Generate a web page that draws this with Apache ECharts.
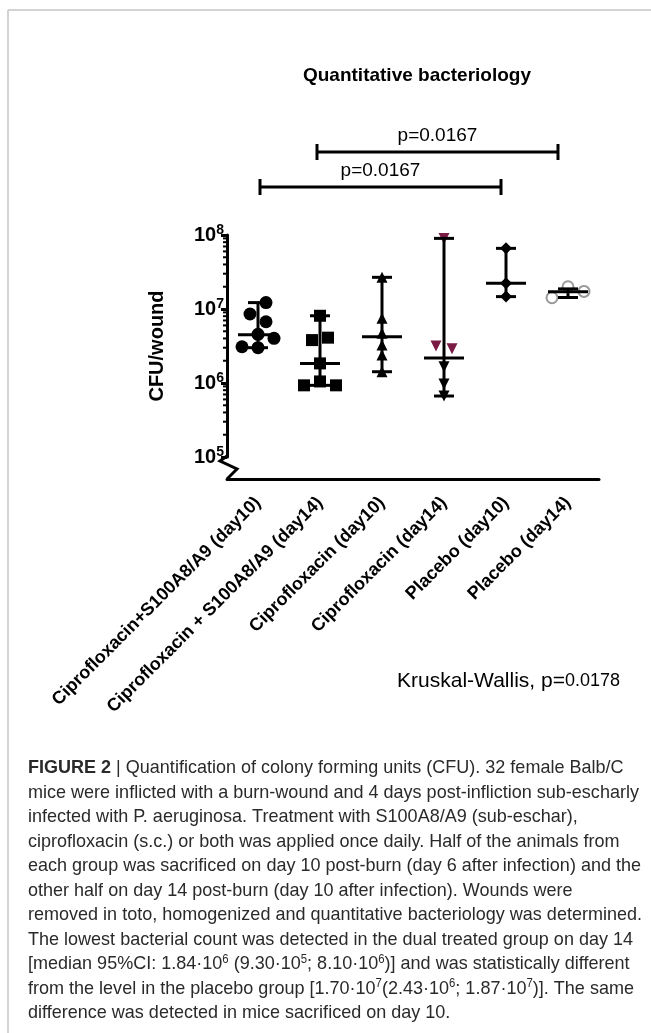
<!DOCTYPE html>
<html><head><meta charset="utf-8">
<script src="https://cdn.jsdelivr.net/npm/echarts@6/dist/echarts.min.js"></script>
<style>html,body{margin:0;padding:0;background:#fff}#c{width:651px;height:1033px}</style>
</head><body><div id="c"></div>
<script>
// ---------------- data ----------------
const categories = [
  'Ciprofloxacin+S100A8/A9 (day10)',
  'Ciprofloxacin + S100A8/A9 (day14)',
  'Ciprofloxacin (day10)',
  'Ciprofloxacin (day14)',
  'Placebo (day10)',
  'Placebo (day14)'
];
const cipS100Day10 = [1.22e7, 8.56e6, 6.73e6, 4.55e6, 4.02e6, 3.09e6, 3.0e6];
const cipS100Day14 = [8.1e6, 4.1e6, 3.8e6, 1.84e6, 1.05e6, 9.3e5, 9.3e5];
const cipDay10 = [2.68e7, 7.48e6, 4.70e6, 3.27e6, 2.39e6, 1.42e6];
const cipDay14Highlighted = [9.0e7, 2.91e6, 3.16e6];
const cipDay14Other = [1.66e6, 9.7e5, 6.67e5];
const placeboDay10 = [6.6e7, 2.22e7, 1.47e7];
const placeboDay14 = [2.0e7, 1.42e7, 1.73e7];
const medianValues = [4.5e6, 1.84e6, 4.23e6, 2.18e6, 2.22e7, 1.71e7];
const lowerValues = [3.0e6, 9.3e5, 1.42e6, 6.67e5, 1.47e7, 1.43e7];
const upperValues = [1.22e7, 8.1e6, 2.68e7, 9.0e7, 6.6e7, 1.87e7];
const yTickValues = [1e5, 1e6, 1e7, 1e8];
const yTickExponents = ['5', '6', '7', '8'];
const compFrom = [0, 1];
const compTo = [4, 5];
const compLabels = ['p=0.0167', 'p=0.0167'];
const kruskalLabel = 'Kruskal-Wallis, p=';
const kruskalValue = '0.0178';
const titleText = 'Quantitative bacteriology';
const yAxisName = 'CFU/wound';
const captionLines = [
  '{fb|FIGURE 2} | Quantification of colony forming units (CFU). 32 female Balb/C',
  'mice were inflicted with a burn-wound and 4 days post-infliction sub-escharly',
  'infected with P. aeruginosa. Treatment with S100A8/A9 (sub-eschar),',
  'ciprofloxacin (s.c.) or both was applied once daily. Half of the animals from',
  'each group was sacrificed on day 10 post-burn (day 6 after infection) and the',
  'other half on day 14 post-burn (day 10 after infection). Wounds were',
  'removed in toto, homogenized and quantitative bacteriology was determined.',
  'The lowest bacterial count was detected in the dual treated group on day 14',
  '[median 95%CI: 1.84·10{s|6} (9.30·10{s|5}; 8.10·10{s|6})] and was statistically different',
  'from the level in the placebo group [1.70·10{s|7}(2.43·10{s|6}; 1.87·10{s|7})]. The same',
  'difference was detected in mice sacrificed on day 10.'
];

// ---------------- styling / layout ----------------
const FONT = "'Liberation Sans', Arial, Helvetica, sans-serif";
const MAROON = '#7b1a45';
const seriesDefs = [
  {cat: 0, data: cipS100Day10, symbol: 'circle', size: 13, color: '#000', d: 12.5},
  {cat: 1, data: cipS100Day14, symbol: 'rect', size: 12, color: '#000', d: 12},
  {cat: 2, data: cipDay10, symbol: 'triangle', size: 11, color: '#000', d: 9.5},
  {cat: 3, data: cipDay14Highlighted, symbol: 'triangle', rotate: 180, size: 11, color: MAROON, d: 9.5},
  {cat: 3, data: cipDay14Other, symbol: 'triangle', rotate: 180, size: 11, color: '#000', d: 9.5},
  {cat: 4, data: placeboDay10, symbol: 'diamond', size: 12, color: '#000', d: 9.5},
  {cat: 5, data: placeboDay14, symbol: 'circle', size: 11, color: '#999', d: 12, empty: true}
];
const SLOT = 16;

const chart = echarts.init(document.getElementById('c'), null, {renderer: 'canvas'});

function baseSeries(offsets) {
  const list = seriesDefs.map((s, si) => ({
    type: 'scatter',
    symbol: s.symbol,
    symbolSize: s.size,
    symbolRotate: s.rotate || 0,
    itemStyle: s.empty ? {color: '#fff', borderColor: s.color, borderWidth: 2, opacity: 1} : {color: s.color, opacity: 1},
    emphasis: {disabled: true},
    z: 2,
    data: s.data.map((v, i) => ({
      value: [s.cat, v],
      symbolOffset: [offsets ? offsets[si][i] : 0, 0]
    }))
  }));
  list.push({
    type: 'custom',
    z: 5,
    encode: {x: 0, y: [1, 2, 3]},
    data: categories.map((c, i) => [i, medianValues[i], lowerValues[i], upperValues[i]]),
    renderItem(params, api) {
      const pm = api.coord([api.value(0), api.value(1)]);
      const pl = api.coord([api.value(0), api.value(2)]);
      const pu = api.coord([api.value(0), api.value(3)]);
      const x = pm[0];
      const st = {stroke: '#000', lineWidth: 3};
      return {type: 'group', children: [
        {type: 'line', shape: {x1: x, y1: pu[1], x2: x, y2: pl[1]}, style: st},
        {type: 'line', shape: {x1: x - 10, y1: pu[1], x2: x + 10, y2: pu[1]}, style: st},
        {type: 'line', shape: {x1: x - 10, y1: pl[1], x2: x + 10, y2: pl[1]}, style: st},
        {type: 'line', shape: {x1: x - 20, y1: pm[1], x2: x + 20, y2: pm[1]}, style: st}
      ]};
    }
  });
  return list;
}

const option = {
  backgroundColor: '#fff',
  animation: false,
  title: {
    text: titleText, left: 412, top: 61, textAlign: 'center',
    textStyle: {fontFamily: FONT, fontWeight: 'bold', fontSize: 19, color: '#000'}
  },
  grid: {left: 227, top: 235, right: 52, bottom: 576, containLabel: false},
  xAxis: {
    type: 'category', data: categories, offset: 22,
    axisLine: {lineStyle: {color: '#000', width: 3}},
    axisTick: {alignWithLabel: true, length: 6, lineStyle: {color: '#000', width: 3}},
    axisLabel: {rotate: 45, interval: 0, margin: 21, color: '#000', fontFamily: FONT, fontWeight: 'bold', fontSize: 18},
    splitLine: {show: false}
  },
  yAxis: {
    type: 'log', logBase: 10, min: 1e5, max: 1e8,
    name: yAxisName, nameLocation: 'middle', nameGap: 60,
    nameTextStyle: {fontFamily: FONT, fontWeight: 'bold', fontSize: 20, color: '#000'},
    axisLine: {show: true, lineStyle: {color: '#000', width: 3}},
    axisTick: {show: true, length: 6, lineStyle: {color: '#000', width: 3}},
    axisLabel: {
      margin: 3, color: '#000',
      formatter: v => {
        const k = yTickValues.findIndex(t => Math.abs(Math.log10(t) - Math.log10(v)) < 1e-6);
        return k < 0 ? '' : '{b|10}{s|' + yTickExponents[k] + '}';
      },
      rich: {
        b: {fontFamily: FONT, fontWeight: 'bold', fontSize: 20, color: '#000'},
        s: {fontFamily: FONT, fontWeight: 'bold', fontSize: 14, color: '#000', verticalAlign: 'top', padding: [0, 0, 9, 0]}
      }
    },
    splitLine: {show: false}
  },
  series: baseSeries(null)
};
chart.setOption(option);

// ---- beeswarm offsets from pixel positions (computed through the axis scale) ----
function swarmOffsets() {
  const result = seriesDefs.map(s => s.data.map(() => 0));
  categories.forEach((c, cat) => {
    const pts = [];
    seriesDefs.forEach((s, si) => {
      if (s.cat !== cat) return;
      s.data.forEach((v, i) => pts.push({si, i, d: s.d, y: chart.convertToPixel({yAxisIndex: 0}, v)}));
    });
    const placed = [];
    pts.forEach(p => {
      const free = s => placed.every(q => q.s !== s || Math.abs(q.y - p.y) >= p.d);
      let s = 0;
      if (!free(0)) {
        const left = placed.filter(q => q.s < 0).length;
        const right = placed.filter(q => q.s > 0).length;
        const order = right < left ? [1, -1, 2, -2, 3, -3] : [-1, 1, -2, 2, -3, 3];
        s = order.find(free);
      }
      p.s = s; placed.push(p);
    });
    const sorted = pts.slice().sort((a, b) => a.y - b.y);
    let cluster = [];
    const flush = () => {
      if (!cluster.length) return;
      const mn = Math.min(...cluster.map(q => q.s)), mx = Math.max(...cluster.map(q => q.s));
      const sh = -(mn + mx) / 2;
      cluster.forEach(q => { result[q.si][q.i] = (q.s + sh) * SLOT; });
      cluster = [];
    };
    sorted.forEach((p, k) => {
      if (k > 0 && p.y - sorted[k - 1].y >= p.d) flush();
      cluster.push(p);
    });
    flush();
  });
  return result;
}

const offsets = swarmOffsets();
const gridTop = chart.convertToPixel({yAxisIndex: 0}, 1e8);
const yMin = chart.convertToPixel({yAxisIndex: 0}, 1e5);
const catW = chart.convertToPixel({xAxisIndex: 0}, 1) - chart.convertToPixel({xAxisIndex: 0}, 0);
const axisX = chart.convertToPixel({xAxisIndex: 0}, 0) - catW / 2;
const lineStyle = {stroke: '#000', lineWidth: 3};
const graphics = [];

// page frame
graphics.push({type: 'line', shape: {x1: 8, y1: 10, x2: 651, y2: 10}, style: {stroke: '#c4c4c4', lineWidth: 1.5}});
graphics.push({type: 'line', shape: {x1: 8, y1: 10, x2: 8, y2: 1033}, style: {stroke: '#c4c4c4', lineWidth: 1.5}});

// minor log ticks
for (let e = 5; e < 8; e++) {
  for (let m = 2; m <= 9; m++) {
    const y = chart.convertToPixel({yAxisIndex: 0}, m * Math.pow(10, e));
    graphics.push({type: 'line', shape: {x1: axisX - 4, y1: y, x2: axisX, y2: y}, style: {stroke: '#000', lineWidth: 2}});
  }
}
// axis break zigzag
graphics.push({type: 'polyline', shape: {points: [[axisX, yMin - 1], [axisX - 7, yMin + 4], [axisX + 10, yMin + 12], [axisX, yMin + 22]]}, style: {stroke: '#000', lineWidth: 3, fill: null}});

// comparison brackets
const bracketY = [gridTop - 48, gridTop - 83];
const bracketShift = [[2, -5], [-3, -10]];
compFrom.forEach((f, k) => {
  const x1 = chart.convertToPixel({xAxisIndex: 0}, f) + bracketShift[k][0];
  const x2 = chart.convertToPixel({xAxisIndex: 0}, compTo[k]) + bracketShift[k][1];
  const y = bracketY[k];
  graphics.push({type: 'line', shape: {x1, y1: y, x2, y2: y}, style: lineStyle});
  graphics.push({type: 'line', shape: {x1, y1: y - 8, x2: x1, y2: y + 8}, style: lineStyle});
  graphics.push({type: 'line', shape: {x1: x2, y1: y - 8, x2, y2: y + 8}, style: lineStyle});
  graphics.push({type: 'text', x: (x1 + x2) / 2, y: y - 16, style: {text: compLabels[k], font: '19px ' + FONT, fill: '#000', textAlign: 'center', textVerticalAlign: 'middle'}});
});

// Kruskal-Wallis
graphics.push({type: 'text', x: 620, y: 681, style: {
  text: '{a|' + kruskalLabel + '}{b|' + kruskalValue + '}',
  textAlign: 'right', textVerticalAlign: 'middle',
  rich: {a: {fontFamily: FONT, fontSize: 21, fill: '#000'}, b: {fontFamily: FONT, fontSize: 18, fill: '#000'}}
}});

// caption: Liberation Sans horizontally condensed to mimic the narrow caption face
const CAP_SIZE = 19;
const CAP_WIDTH = 613;
const ctx = document.createElement('canvas').getContext('2d');
ctx.font = CAP_SIZE + "px 'Liberation Sans'";
const refLine = captionLines[4].replace(/\{\w+\|([^}]*)\}/g, '$1');
const capScale = CAP_WIDTH / ctx.measureText(refLine).width;
captionLines.forEach((ln, i) => {
  graphics.push({type: 'text', x: 28, y: 768 + i * 24.5, scaleX: capScale, style: {
    text: ln, textVerticalAlign: 'middle', fontFamily: FONT, fontSize: CAP_SIZE, fill: '#2a2a2a',
    rich: {
      fb: {fontFamily: FONT, fontWeight: 'bold', fontSize: CAP_SIZE, fill: '#2a2a2a'},
      s: {fontFamily: FONT, fontSize: 12, fill: '#2a2a2a', verticalAlign: 'top', padding: [0, 0, 9, 0]}
    }
  }});
});

chart.setOption({series: baseSeries(offsets), graphic: graphics});
</script>
</body></html>
